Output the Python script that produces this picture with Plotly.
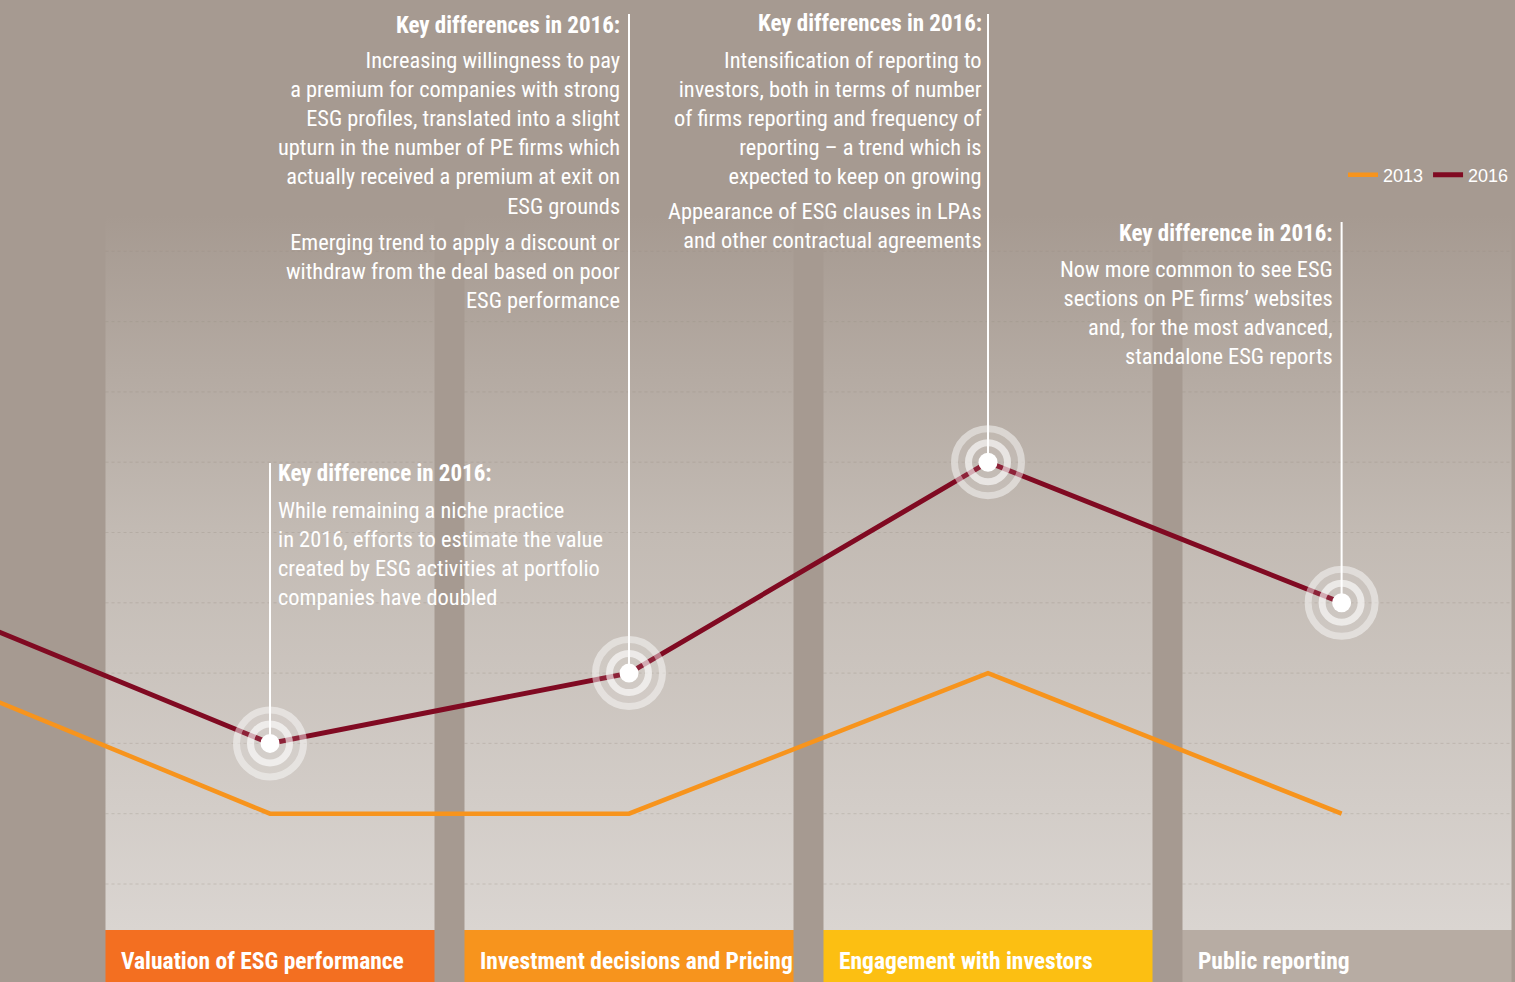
import plotly.graph_objects as go

# ---------------- data ----------------
CATEGORIES = ["Valuation of ESG performance", "Investment decisions and Pricing",
              "Engagement with investors", "Public reporting"]
CAT_POS = [0, 1, 2, 3]              # column centres
POINT_POS = [0, 1, 2, 2.985]        # where each category's values are plotted
SERIES_2013 = [10, 10, 30, 10]
SERIES_2016 = [20, 30, 60, 40]
# the lines enter from a previous (off-frame) point on the left
LEAD_POS = -1
LEAD_2013 = 31
LEAD_2016 = 41
GRID_VALUES = [0, 10, 20, 30, 40, 50, 60, 70, 80, 90]
BOX_COLORS = ["#f36f21", "#f7941d", "#fcbf12", "#b7aca3"]

# callouts: (category index, align, header, paragraphs)
CALLOUTS = [
    (1, "right", "Key differences in 2016:",
     ["Increasing willingness to pay<br>a premium for companies with strong<br>ESG profiles, translated into a slight<br>upturn in the number of PE firms which<br>actually received a premium at exit on<br>ESG grounds",
      "Emerging trend to apply a discount or<br>withdraw from the deal based on poor<br>ESG performance"]),
    (2, "right", "Key differences in 2016:",
     ["Intensification of reporting to<br>investors, both in terms of number<br>of firms reporting and frequency of<br>reporting – a trend which is<br>expected to keep on growing",
      "Appearance of ESG clauses in LPAs<br>and other contractual agreements"]),
    (3, "right", "Key difference in 2016:",
     ["Now more common to see ESG<br>sections on PE firms’ websites<br>and, for the most advanced,<br>standalone ESG reports"]),
    (0, "left", "Key difference in 2016:",
     ["While remaining a niche practice<br>in 2016, efforts to estimate the value<br>created by ESG activities at portfolio<br>companies have doubled"]),
]

# ---------------- layout geometry (pixels) ----------------
W, H = 1515, 982
X0_PX, DX_PX = 270, 359      # pixel of category 0, pixels per category
Y0_PX, DY_PX = 884, 7.03     # pixel of value 0, pixels per value unit
def vx(px): return (px - X0_PX) / DX_PX
def vy(py): return (Y0_PX - py) / DY_PX

HALF_W = 164.5 / DX_PX
COL_TOP = vy(215)
COL_BOT = vy(930)
Y_MIN, Y_MAX = vy(H), vy(0)

CALL_GEOM = [
    dict(line_top=14, text_x=622, head_y=25, para_y=[133, 270.5]),
    dict(line_top=14, text_x=984, head_y=23, para_y=[118, 225.5]),
    dict(line_top=222, text_x=1335, head_y=233, para_y=[312.5]),
    dict(line_top=463, text_x=276, head_y=473, para_y=[553]),
]

FONT_N = "Roboto Condensed, DejaVu Sans Condensed, Liberation Sans Narrow, Roboto, sans-serif"
BG = "#a69a91"

fig = go.Figure()

for i in CAT_POS:
    x0, x1 = i - HALF_W, i + HALF_W
    fig.add_trace(go.Scatter(
        x=[x0, x1, x1, x0, x0], y=[COL_BOT, COL_BOT, COL_TOP, COL_TOP, COL_BOT],
        mode="lines", line=dict(width=0), fill="toself",
        fillgradient=dict(type="vertical",
                          colorscale=[[0, "#dad5d1"], [0.55, "#c3bbb4"], [1, BG]]),
        hoverinfo="skip", showlegend=False))

gx, gy = [], []
for g in GRID_VALUES:
    for i in CAT_POS:
        gx += [i - HALF_W, i + HALF_W, None]
        gy += [g, g, None]
fig.add_trace(go.Scatter(x=gx, y=gy, mode="lines",
                         line=dict(color="rgba(150,138,128,0.3)", width=1, dash="dot"),
                         hoverinfo="skip", showlegend=False))

for i, (cat, col) in enumerate(zip(CATEGORIES, BOX_COLORS)):
    fig.add_shape(type="rect", xref="x", yref="y",
                  x0=i - HALF_W, x1=i + HALF_W, y0=Y_MIN, y1=COL_BOT,
                  fillcolor=col, line=dict(width=0), layer="below")
    fig.add_annotation(x=i - HALF_W + 13 / DX_PX, y=vy(961), xref="x", yref="y",
                       text=cat, showarrow=False, xanchor="left", yanchor="middle",
                       font=dict(family=FONT_N, size=23.5, color="white", weight="bold"))

fig.add_trace(go.Scatter(x=[LEAD_POS] + POINT_POS, y=[LEAD_2013] + SERIES_2013,
                         mode="lines", name="2013",
                         line=dict(color="#f7941d", width=4.5)))
fig.add_trace(go.Scatter(x=[LEAD_POS] + POINT_POS, y=[LEAD_2016] + SERIES_2016,
                         mode="lines", name="2016",
                         line=dict(color="#800a22", width=5)))

ring_specs = [
    dict(size=74, color="rgba(255,255,255,0.10)", line=dict(width=0)),
    dict(size=67, color="rgba(0,0,0,0)", line=dict(width=7, color="rgba(255,255,255,0.42)")),
    dict(size=39, color="rgba(0,0,0,0)", line=dict(width=7, color="rgba(255,255,255,0.62)")),
    dict(size=19, color="white", line=dict(width=0)),
]
for spec in ring_specs:
    fig.add_trace(go.Scatter(x=POINT_POS, y=SERIES_2016, mode="markers",
                             marker=spec, hoverinfo="skip", showlegend=False))

for (idx, align, head, paras), geo in zip(CALLOUTS, CALL_GEOM):
    fig.add_shape(type="line", xref="x", yref="y",
                  x0=POINT_POS[idx], x1=POINT_POS[idx],
                  y0=SERIES_2016[idx], y1=vy(geo["line_top"]),
                  line=dict(color="white", width=2), layer="above")
    xa = "right" if align == "right" else "left"
    fig.add_annotation(x=vx(geo["text_x"]), y=vy(geo["head_y"]), xref="x", yref="y",
                       text=head, showarrow=False, xanchor=xa, yanchor="middle", align=align,
                       font=dict(family=FONT_N, size=23, color="white", weight="bold"))
    for p, py in zip(paras, geo["para_y"]):
        fig.add_annotation(x=vx(geo["text_x"]), y=vy(py), xref="x", yref="y",
                           text=p, showarrow=False, xanchor=xa, yanchor="middle", align=align,
                           font=dict(family=FONT_N, size=22.4, color="white"))

fig.update_layout(
    width=W, height=H, margin=dict(l=0, r=0, t=0, b=0),
    paper_bgcolor=BG, plot_bgcolor=BG,
    xaxis=dict(visible=False, range=[vx(0), vx(W)], fixedrange=True),
    yaxis=dict(visible=False, range=[Y_MIN, Y_MAX], fixedrange=True),
    showlegend=True,
    legend=dict(orientation="h", x=1343 / W, xanchor="left", y=1 - 175 / H, yanchor="middle",
                bgcolor="rgba(0,0,0,0)", borderwidth=0,
                font=dict(family="Liberation Sans, Arial, sans-serif", size=18, color="white"),
                itemclick=False, itemdoubleclick=False),
)

fig.write_html("out.html", config={"displayModeBar": False})
with open("out.html", encoding="utf-8") as f:
    html = f.read()
html = html.replace("<head>", "<head><style>html,body{margin:0;padding:0;overflow:hidden;}</style>", 1)
with open("out.html", "w", encoding="utf-8") as f:
    f.write(html)
